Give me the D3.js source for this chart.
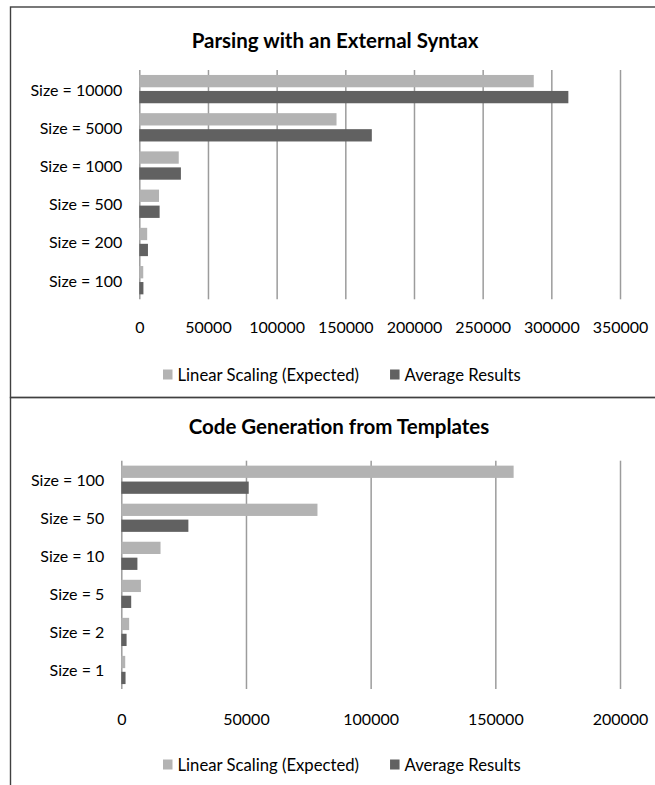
<!DOCTYPE html>
<html>
<head>
<meta charset="utf-8">
<script src="https://cdn.jsdelivr.net/npm/d3@7"></script>
<style>
  body { margin: 0; background: #fff; }
  svg text { font-family: Lato, "Open Sans", sans-serif; fill: #000; }
</style>
</head>
<body>
<svg id="chart" width="655" height="785"></svg>
<script>
// ---- data ----
var seriesNames = ["Linear Scaling (Expected)", "Average Results"];
var seriesColors = ["#b3b3b3", "#616161"];

var parseTitle = "Parsing with an External Syntax";
var parseSizes = ["Size = 10000", "Size = 5000", "Size = 1000", "Size = 500", "Size = 200", "Size = 100"];
var parseExpected = [287200, 143600, 28720, 14360, 5744, 2872];
var parseAverage = [312400, 169300, 30300, 14800, 6300, 3000];
var parseTicks = [0, 50000, 100000, 150000, 200000, 250000, 300000, 350000];

var genTitle = "Code Generation from Templates";
var genSizes = ["Size = 100", "Size = 50", "Size = 10", "Size = 5", "Size = 2", "Size = 1"];
var genExpected = [157340, 78670, 15734, 7867, 3147, 1573];
var genAverage = [51100, 26900, 6460, 3970, 2120, 1700];
var genTicks = [0, 50000, 100000, 150000, 200000];

var svg = d3.select("#chart");

// chart frames (they run off the right edge of the page)
svg.append("rect")
    .attr("x", 10.5).attr("y", 7).attr("width", 700).attr("height", 390.5)
    .attr("fill", "none").attr("stroke", "#404040").attr("stroke-width", 1.4);
svg.append("rect")
    .attr("x", 10.5).attr("y", 397.5).attr("width", 700).attr("height", 420)
    .attr("fill", "none").attr("stroke", "#404040").attr("stroke-width", 1.4);

function drawChart(opts) {
    var g = svg.append("g");
    var x = d3.scaleLinear()
        .domain([0, d3.max(opts.ticks)])
        .range([opts.left, 620]);
    var y = d3.scaleBand()
        .domain(opts.cats)
        .range([opts.top, opts.bottom]);
    var inner = d3.scaleBand()
        .domain(seriesNames)
        .range([0, y.step()])
        .paddingInner(0.23)
        .paddingOuter(0.31);

    g.append("text")
        .attr("x", opts.titleX).attr("y", opts.titleY)
        .attr("text-anchor", "middle").attr("dominant-baseline", "central")
        .style("font-size", "20.5px").style("font-weight", "bold")
        .text(opts.title);

    // vertical gridlines (axis with full-height ticks)
    var grid = g.append("g")
        .attr("transform", "translate(0," + opts.bottom + ")")
        .call(d3.axisBottom(x).tickValues(opts.ticks)
            .tickSize(-(opts.bottom - opts.top)).tickFormat(""));
    grid.select(".domain").remove();
    grid.selectAll(".tick line").attr("stroke", "#9c9c9c").attr("stroke-width", 1.5);

    // tick labels
    var lab = g.append("g")
        .attr("transform", "translate(0," + opts.tickY + ")")
        .call(d3.axisBottom(x).tickValues(opts.ticks).tickSize(0).tickPadding(0)
            .tickFormat(d3.format("d")));
    lab.select(".domain").remove();
    lab.selectAll("text")
        .attr("dy", null).attr("dominant-baseline", "central")
        .style("font-size", "16px").style("font-family", "Lato, sans-serif").attr("fill", "#000");

    // category labels
    g.selectAll(".cat").data(opts.cats).enter().append("text")
        .attr("x", opts.left - 17)
        .attr("y", function (d) { return y(d) + y.step() / 2; })
        .attr("text-anchor", "end").attr("dominant-baseline", "central")
        .style("font-size", "16px")
        .text(function (d) { return d; });

    var rows = opts.cats.map(function (c, i) {
        return [opts.expected[i], opts.average[i]];
    });
    rows.forEach(function (vals, i) {
        vals.forEach(function (v, s) {
            g.append("rect")
                .attr("x", x(0))
                .attr("y", y(opts.cats[i]) + inner(seriesNames[s]))
                .attr("width", x(v) - x(0))
                .attr("height", inner.bandwidth())
                .attr("fill", seriesColors[s]);
        });
    });

    // legend
    var lx = 163;
    seriesNames.forEach(function (name, s) {
        g.append("rect")
            .attr("x", lx).attr("y", opts.legendY - 5)
            .attr("width", 9.5).attr("height", 10)
            .attr("fill", seriesColors[s]);
        var t = g.append("text")
            .attr("x", lx + 14.5).attr("y", opts.legendY)
            .attr("dominant-baseline", "central")
            .style("font-size", "16.7px")
            .text(name);
        lx = lx + 14.5 + t.node().getComputedTextLength() + 31;
    });
}

drawChart({
    title: parseTitle, titleX: 335, titleY: 40,
    cats: parseSizes, expected: parseExpected, average: parseAverage, ticks: parseTicks,
    left: 139.3, top: 70, bottom: 299.3, tickY: 326.7, legendY: 374.5
});

drawChart({
    title: genTitle, titleX: 339, titleY: 426,
    cats: genSizes, expected: genExpected, average: genAverage, ticks: genTicks,
    left: 121.3, top: 460.7, bottom: 689, tickY: 718.3, legendY: 764.5
});
</script>
</body>
</html>
